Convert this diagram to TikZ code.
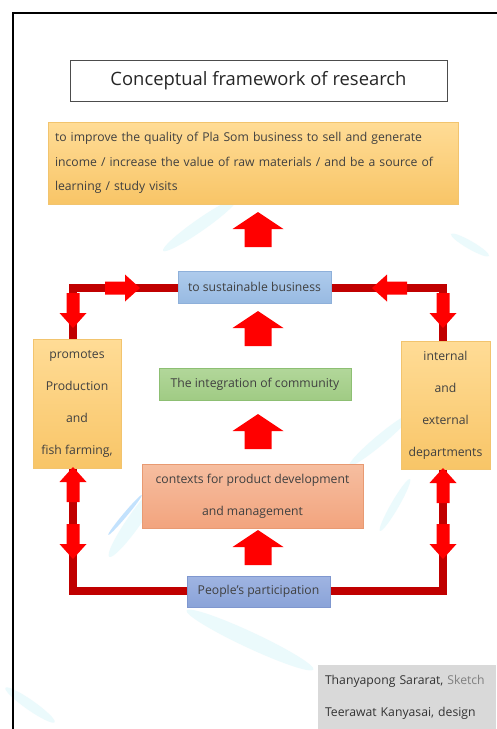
\documentclass[tikz,border=0pt]{standalone}
\usepackage{fontspec}
\setmainfont{Open Sans}
\definecolor{loopred}{HTML}{C00000}
\definecolor{arrred}{HTML}{FF0000}
\definecolor{txt}{HTML}{404040}
\definecolor{orgtop}{HTML}{FFDC96}
\definecolor{orgbot}{HTML}{F8C567}
\definecolor{orgedge}{HTML}{F2C46E}
\definecolor{saltop}{HTML}{F6BEA0}
\definecolor{salbot}{HTML}{F2A47E}
\definecolor{saledge}{HTML}{E89A72}
\definecolor{bluetop}{HTML}{AECBEC}
\definecolor{bluebot}{HTML}{98BAE2}
\definecolor{blueedge}{HTML}{8EB0DA}
\definecolor{grntop}{HTML}{B2D79A}
\definecolor{grnbot}{HTML}{A0CB84}
\definecolor{grnedge}{HTML}{8DBF73}
\definecolor{pputop}{HTML}{9FB4E2}
\definecolor{ppubot}{HTML}{8AA3D8}
\definecolor{ppuedge}{HTML}{7F97CF}
\definecolor{splash}{HTML}{C8F1F8}
\pgfdeclarelayer{back}
\pgfdeclarelayer{lines}
\pgfsetlayers{back,lines,main}
\begin{document}
\begin{tikzpicture}[x=1pt,y=-1pt,
  boxbase/.style={rectangle,inner sep=0pt,text=txt,align=center},
  orgbox/.style={boxbase,top color=orgtop,bottom color=orgbot,draw=orgedge,line width=0.6pt},
  salbox/.style={boxbase,top color=saltop,bottom color=salbot,draw=saledge,line width=0.6pt},
  bluebox/.style={boxbase,top color=bluetop,bottom color=bluebot,draw=blueedge,line width=0.6pt},
  grnbox/.style={boxbase,top color=grntop,bottom color=grnbot,draw=grnedge,line width=0.6pt},
  ppubox/.style={boxbase,top color=pputop,bottom color=ppubot,draw=ppuedge,line width=0.6pt},
  onefont/.style={font=\fontsize{12.2}{15}\selectfont},
  wide/.style={font=\fontsize{12.2}{32}\selectfont},
  loopline/.style={draw=loopred,line width=8pt},
  bigup/.pic={\fill[arrred] (0,0) -- (25.5,17) -- (13.5,17) -- (13.5,35) -- (-13.5,35) -- (-13.5,17) -- (-25.5,17) -- cycle;},
  smallarr/.pic={\fill[arrred] (0,0) -- (-15,13.5) -- (-15,6.5) -- (-35,6.5) -- (-35,-6.5) -- (-15,-6.5) -- (-15,-13.5) -- cycle;}
]
\useasboundingbox (0,0) rectangle (496,729);
\begin{pgfonlayer}{back}
\fill[white] (0,0) rectangle (496,729);
\begin{scope}[opacity=0.35]
\fill[splash,rotate around={35:(200,225)}] (200,225) ellipse (45 and 6);
\fill[splash,rotate around={-30:(470,245)}] (470,245) ellipse (22 and 4);
\fill[splash,rotate around={55:(135,520)}] (135,520) ellipse (45 and 7);
\fill[splash!60!cyan!70!blue,rotate around={50:(125,515)}] (125,515) ellipse (26 and 2);
\fill[splash,rotate around={40:(380,440)}] (380,440) ellipse (40 and 5);
\fill[splash,rotate around={-25:(250,640)}] (250,640) ellipse (70 and 8);
\fill[splash,rotate around={-35:(30,705)}] (30,705) ellipse (30 and 5);
\fill[splash,rotate around={60:(395,505)}] (395,505) ellipse (30 and 4);
\end{scope}
\end{pgfonlayer}
% frame
\draw[black,line width=2pt] (13,729) -- (13,13) -- (497,13);
% title and goal
\node[boxbase,draw=black!70,fill=white,line width=0.6pt,minimum width=377pt,minimum height=41pt,
  font=\fontsize{18.4}{22}\selectfont,text=black!85] (title) at (258.5,80.5) {Conceptual framework of research};
\node[orgbox,minimum height=82pt,text width=396pt,inner xsep=7pt,align=left,
  font=\fontsize{12.2}{24.5}\selectfont] (goal) at (253,163) {to improve the quality of Pla Som business to sell and generate\\income / increase the value of raw materials / and be a source of\\learning / study visits};
% boxes
\node[bluebox,minimum width=153pt,minimum height=32pt,onefont] (sust) at (254.5,287) {to sustainable business};
\node[orgbox,minimum width=88pt,minimum height=129pt,wide] (left) at (77,403.5) {promotes\\Production\\and\\fish farming,};
\node[orgbox,minimum width=89pt,minimum height=128pt,wide] (right) at (445.5,405) {internal\\and\\external\\departments};
\node[grnbox,minimum width=192pt,minimum height=32pt,onefont] (integ) at (255,384) {The integration of community};
\node[salbox,minimum width=221pt,minimum height=64pt,wide] (ctx) at (252.5,496) {contexts for product development\\and management};
\node[ppubox,minimum width=143pt,minimum height=31pt,onefont] (ppl) at (258.5,591.5) {People's participation};
\node[boxbase,fill=black!15,minimum height=64pt,text width=164pt,inner xsep=7pt,align=left,
  font=\fontsize{12.2}{32}\selectfont,text=black!80] (cred) at (407,697) {Thanyapong Sararat, {\color{black!50}Sketch}\\Teerawat Kanyasai, design};
% loop connectors (behind boxes)
\coordinate (tl) at (73,288);
\coordinate (tr) at (443,288);
\coordinate (bl) at (73,591);
\coordinate (br) at (443,591);
\begin{pgfonlayer}{lines}
\path[loopline] (sust.west |- tl) -- (tl) -- (tl |- left.north);
\path[loopline] (sust.east |- tr) -- (tr) -- (tr |- right.north);
\path[loopline] (ppl.west |- bl) -- (bl) -- (bl |- left.south);
\path[loopline] (ppl.east |- br) -- (br) -- (br |- right.south);
\end{pgfonlayer}
% small loop arrows
\pic at (140,288) {smallarr};
\pic[rotate=180] at (372,288) {smallarr};
\pic[rotate=-90] at (73,328) {smallarr};
\pic[rotate=-90] at (443,328) {smallarr};
\pic[rotate=90] at (73,467) {smallarr};
\pic[rotate=90] at (443,468) {smallarr};
\pic[rotate=-90] at (73,559) {smallarr};
\pic[rotate=-90] at (443,559) {smallarr};
% big upward arrows
\pic at (258,212) {bigup};
\pic at (258,311) {bigup};
\pic at (258,414) {bigup};
\pic at (258,530) {bigup};
\end{tikzpicture}
\end{document}
